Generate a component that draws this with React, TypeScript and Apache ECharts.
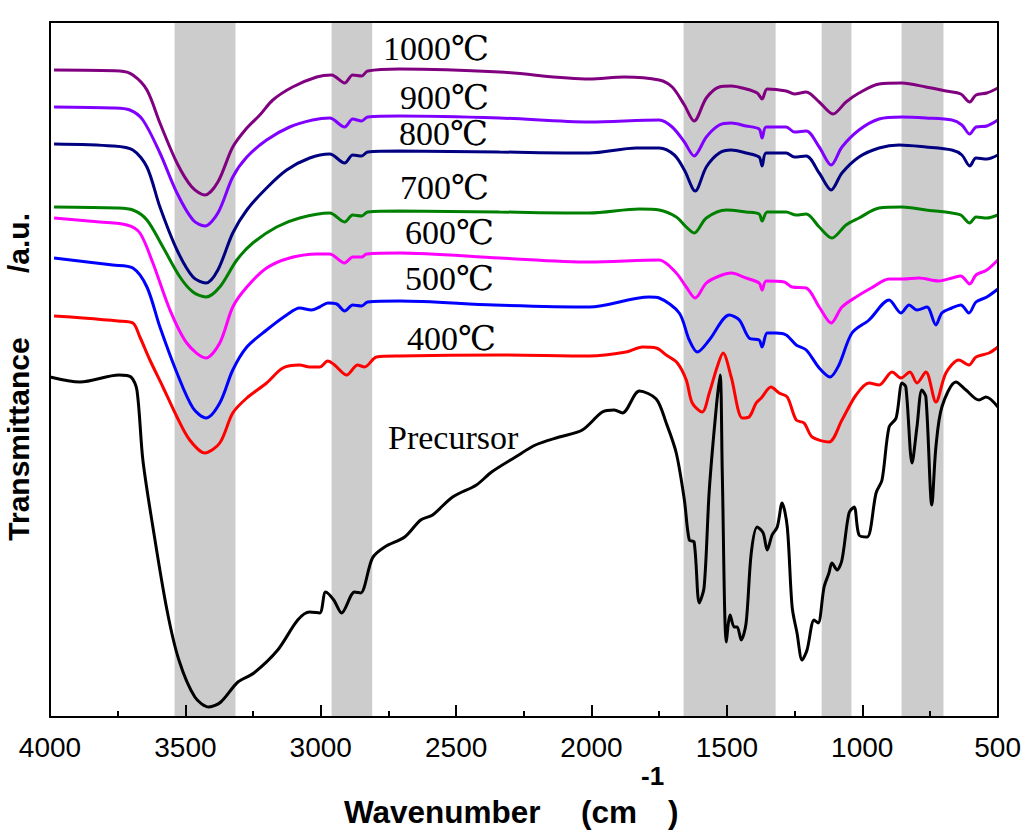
import { useEffect, useRef } from "react";
import * as echarts from "echarts";

// wavenumber (cm-1) ranges shaded grey
const bands = [
  [3540, 3315],
  [2960, 2810],
  [1660, 1320],
  [1150, 1040],
  [855, 700],
];

const xTicks = [4000, 3500, 3000, 2500, 2000, 1500, 1000, 500];

// [wavenumber, transmittance a.u.]
const precursor = [
  [4000, 68], [3889, 67], [3745, 68.4], [3701, 68], [3679, 65.4], [3657, 51.4], [3620, 38], [3568, 21.4],
  [3524, 11.4], [3465, 4], [3413, 2], [3369, 3], [3306, 7], [3247, 8.8], [3159, 13.4], [3085, 19.4],
  [3041, 21], [3004, 20.8], [2982, 25], [2952, 23.4], [2923, 20.8], [2875, 25], [2853, 24.8], [2809, 31.8],
  [2764, 34], [2690, 36], [2631, 39.4], [2587, 40.4], [2513, 44], [2425, 46.4], [2369, 49], [2281, 52],
  [2207, 54.4], [2119, 56], [2034, 57.4], [1960, 61], [1916, 61.4], [1886, 60.8], [1823, 65.2], [1761, 63.6],
  [1724, 58.8], [1687, 52.8], [1657, 43.4], [1639, 35.4], [1621, 35], [1602, 22.8], [1584, 26], [1565, 45.4],
  [1539, 62], [1525, 68.4], [1517, 48.8], [1502, 15], [1488, 20.4], [1473, 18], [1462, 18], [1447, 15.4],
  [1429, 18.8], [1410, 32.8], [1388, 38], [1366, 36.8], [1351, 33.4], [1333, 36.4], [1314, 38], [1296, 42.8],
  [1277, 38], [1259, 22], [1241, 16.8], [1222, 11.4], [1204, 13.4], [1178, 19.4], [1163, 18.8], [1141, 26],
  [1123, 28.8], [1112, 30.8], [1093, 29.4], [1075, 31.4], [1049, 40.8], [1030, 42], [1012, 36.4], [982, 36],
  [949, 44.8], [927, 47.4], [901, 58], [875, 59.8], [853, 66.8], [839, 66], [816, 50.8], [798, 58],
  [780, 65.4], [765, 64], [743, 42.4], [728, 54], [706, 62], [654, 67], [617, 65.4], [569, 63.4],
  [543, 64], [499, 62],
];

const t400 = [
  [3985, 80.2], [3878, 79.8], [3749, 79.2], [3694, 78.8], [3668, 76], [3631, 71.4], [3583, 66], [3531, 60],
  [3484, 55.4], [3428, 52.8], [3373, 54.8], [3325, 60.8], [3273, 63.8], [3200, 66.8], [3140, 69.8], [3078, 70.4],
  [3041, 70], [3004, 70], [2974, 71.2], [2949, 70.4], [2904, 68.4], [2864, 70.4], [2838, 70], [2794, 72],
  [2709, 72.2], [2340, 72.4], [2008, 72.2], [1872, 73], [1812, 74], [1761, 73.8], [1724, 72.4], [1683, 70.8],
  [1650, 67.4], [1628, 62.8], [1591, 61], [1565, 64.8], [1536, 70], [1514, 72.8], [1484, 68], [1443, 59.8],
  [1418, 60], [1392, 62.8], [1373, 63.8], [1337, 66], [1307, 64.8], [1277, 64], [1244, 59.4], [1215, 58.8],
  [1185, 56], [1123, 55], [1075, 59.4], [1023, 64.4], [975, 66.8], [938, 66.4], [890, 69], [857, 67.8],
  [824, 69], [798, 66.8], [765, 69], [728, 63], [691, 68.8], [643, 71.4], [606, 70.4], [580, 72],
  [532, 72.8], [499, 74],
];

const t500 = [
  [3985, 91.8], [3768, 90.4], [3694, 89.8], [3642, 86], [3594, 78], [3531, 68.8], [3472, 61.8], [3424, 59.8],
  [3373, 62.8], [3325, 69.4], [3273, 74], [3200, 77.4], [3126, 80.4], [3078, 81.8], [3034, 81.4], [3004, 82],
  [2974, 82.8], [2941, 82.6], [2912, 81.2], [2882, 82.4], [2849, 82.2], [2827, 83], [2709, 83.2], [2360, 82.4],
  [2008, 82], [1787, 84], [1750, 83.8], [1676, 80.8], [1639, 75.4], [1609, 73], [1565, 75.4], [1491, 80.4],
  [1454, 79.4], [1418, 75.8], [1381, 75.4], [1370, 74], [1351, 76.8], [1318, 76.8], [1281, 76.4], [1244, 74.4],
  [1207, 73.4], [1159, 69.8], [1119, 68], [1086, 70.4], [1038, 76.8], [975, 79.4], [901, 83.4], [857, 80.8],
  [827, 82.4], [798, 81.4], [761, 82], [728, 78.4], [706, 80.8], [669, 81.8], [636, 82.4], [606, 80.8],
  [580, 83], [540, 84], [499, 85.6],
];

const t600 = [
  [3985, 99.8], [3816, 99], [3716, 98.4], [3668, 96.8], [3620, 90.8], [3557, 81.4], [3495, 74.8], [3424, 71.8],
  [3373, 74.8], [3325, 82], [3273, 86], [3200, 89.8], [3115, 91.8], [3015, 92.6], [2967, 92.6], [2912, 90.8],
  [2882, 92], [2849, 92], [2831, 92.6], [2709, 92.8], [2340, 91.8], [2008, 91], [1750, 91.4], [1687, 88.8],
  [1650, 86], [1617, 83.8], [1576, 86.8], [1528, 88.2], [1484, 88.8], [1429, 87.8], [1381, 86.8], [1370, 85.4],
  [1355, 87.2], [1288, 87], [1259, 86], [1207, 85.8], [1159, 82], [1115, 78.8], [1075, 82], [1023, 84],
  [967, 85.8], [901, 87.6], [849, 87.6], [791, 87.8], [717, 87.2], [669, 87.8], [636, 88.2], [603, 86.6],
  [580, 88.4], [540, 89.4], [499, 91.4],
];

const t700 = [
  [3985, 102], [3753, 101.8], [3694, 101.4], [3642, 99.4], [3583, 94], [3520, 88], [3472, 85], [3424, 84],
  [3373, 86], [3310, 91.4], [3251, 94.8], [3163, 98], [3078, 99.8], [2967, 100.8], [2912, 99], [2882, 100.4],
  [2849, 100.2], [2827, 101], [2709, 101.2], [2340, 101], [2008, 100.8], [1823, 101.6], [1750, 101.4], [1687, 100],
  [1650, 98], [1621, 96.8], [1576, 99.8], [1502, 101.4], [1429, 101], [1381, 100.6], [1370, 99.2], [1351, 101],
  [1281, 101], [1244, 100.4], [1207, 100.6], [1159, 98], [1112, 95.8], [1060, 98.4], [1012, 99.8], [938, 101.8],
  [853, 102], [765, 101.4], [669, 100.8], [636, 100.4], [603, 98.8], [580, 100], [540, 99.8], [499, 100.4],
];

const t800 = [
  [3985, 114.6], [3768, 114.2], [3694, 113.4], [3642, 110], [3594, 102], [3531, 93.4], [3472, 88], [3424, 86.8],
  [3380, 89.4], [3325, 96.8], [3273, 101.4], [3200, 105.8], [3126, 109.4], [3041, 111.8], [2967, 112.6], [2912, 110.8],
  [2882, 112.4], [2849, 112.2], [2827, 113], [2709, 113.2], [2340, 113], [2008, 112.8], [1834, 113.8], [1750, 113.8],
  [1694, 112.4], [1657, 109.4], [1617, 105.2], [1576, 110], [1528, 112.8], [1484, 113.4], [1429, 112.8], [1381, 112],
  [1370, 110.2], [1355, 112.8], [1281, 112.8], [1251, 112], [1207, 112.2], [1159, 108.8], [1115, 105.4], [1075, 108.8],
  [1012, 112], [938, 113.8], [864, 114.4], [765, 114], [669, 113.4], [632, 112.4], [603, 110.2], [580, 111.8],
  [540, 111.6], [499, 112.4],
];

const t900 = [
  [3985, 122], [3768, 121.8], [3705, 121.4], [3657, 119.4], [3594, 112.8], [3531, 104.8], [3472, 99.4], [3428, 98.2],
  [3380, 100.8], [3325, 108], [3273, 112], [3200, 115.4], [3115, 118], [3030, 119.4], [2967, 119.8], [2912, 118],
  [2882, 119.6], [2849, 119.2], [2827, 120], [2709, 120.2], [2340, 119.8], [2008, 119], [1750, 119.4], [1702, 118],
  [1657, 115], [1621, 112.2], [1576, 116], [1528, 118.4], [1484, 118.8], [1429, 118.2], [1381, 117.6], [1370, 115.8],
  [1355, 118], [1281, 118], [1251, 117], [1207, 117.2], [1159, 114], [1115, 110.4], [1075, 114], [1012, 117.4],
  [938, 119.6], [853, 120], [765, 119.8], [669, 119.4], [632, 118.4], [603, 116.6], [580, 118], [540, 118.2],
  [499, 119.4],
];

const t1000 = [
  [3985, 129.4], [3742, 129.2], [3694, 128.4], [3642, 125.4], [3594, 118.8], [3531, 110.8], [3476, 106], [3428, 104.4],
  [3380, 107], [3325, 114], [3273, 117.8], [3225, 120.4], [3177, 123.4], [3104, 126], [3015, 128], [2960, 128.4],
  [2912, 126.8], [2882, 128.4], [2849, 128.2], [2827, 129.2], [2709, 129.6], [2340, 129], [2008, 127.6], [1879, 128],
  [1750, 127.4], [1702, 126], [1657, 122.4], [1621, 119.2], [1576, 123.8], [1528, 126], [1484, 126.2], [1429, 125.6],
  [1388, 124.8], [1370, 123.6], [1351, 125.6], [1281, 125.2], [1251, 124.6], [1207, 125], [1159, 123], [1108, 120.6],
  [1060, 123], [1012, 124.8], [938, 126.6], [853, 126.8], [765, 126], [691, 125.2], [636, 124.6], [603, 123],
  [580, 124.4], [540, 124.8], [499, 125.8],
];

const seriesNames = ["Precursor", "400℃", "500℃", "600℃", "700℃", "800℃", "900℃", "1000℃"];
const seriesData = [precursor, t400, t500, t600, t700, t800, t900, t1000];
const seriesColors = ["#000000", "#ff0000", "#0000ff", "#ff00ff", "#008000", "#000080", "#8000ff", "#800080"];

// where each curve's name is written
const labelPos = [
  [388, 437], [407, 338], [405, 278], [405, 232], [400, 187], [399, 133], [400, 97], [383, 48],
];

const SANS = '"Liberation Sans", Arial, sans-serif';
const SERIF = '"Liberation Serif", "DejaVu Serif", "Times New Roman", serif';

const FtirChart = () => {
  const chartRef = useRef<HTMLDivElement>(null);

  useEffect(() => {
    document.body.style.margin = "0";
    if (!chartRef.current) return;
    const chart = echarts.init(chartRef.current, null, { renderer: "svg" });

    const series: any[] = seriesData.map((d, i) => ({
      name: seriesNames[i],
      type: "line",
      data: d,
      showSymbol: false,
      smooth: 0.3,
      z: 3,
      lineStyle: { color: seriesColors[i], width: 3 },
      itemStyle: { color: seriesColors[i] },
    }));
    series[0].markArea = {
      silent: true,
      z: 1,
      itemStyle: { color: "#cccccc" },
      data: bands.map(([a, b]) => [{ xAxis: a }, { xAxis: b }]),
    };

    const graphic: any[] = seriesNames.map((n, i) => ({
      type: "text",
      x: labelPos[i][0],
      y: labelPos[i][1],
      z: 10,
      style: {
        text: n,
        fill: "#000",
        fontSize: 34,
        fontFamily: SERIF,
        textAlign: "left",
        textVerticalAlign: "middle",
      },
    }));

    const titleStyle = { fill: "#000", fontSize: 31.5, fontWeight: "bold", fontFamily: SANS, textVerticalAlign: "middle" };
    graphic.push(
      { type: "text", x: 344, y: 812, style: { ...titleStyle, text: "Wavenumber", textAlign: "left" } },
      { type: "text", x: 581, y: 812, style: { ...titleStyle, text: "(cm", textAlign: "left" } },
      { type: "text", x: 641, y: 776, style: { ...titleStyle, fontSize: 26, text: "-1", textAlign: "left" } },
      { type: "text", x: 668, y: 812, style: { ...titleStyle, text: ")", textAlign: "left" } },
      { type: "text", x: 18, y: 439, rotation: Math.PI / 2, style: { ...titleStyle, fontSize: 30, text: "Transmittance", textAlign: "center" } },
      { type: "text", x: 18, y: 243, rotation: Math.PI / 2, style: { ...titleStyle, fontSize: 30, text: "/a.u.", textAlign: "center" } }
    );

    chart.setOption({
      animation: false,
      grid: { left: 50, right: 25, top: 22, bottom: 114 },
      xAxis: [
        {
          type: "value",
          min: 500,
          max: 4000,
          interval: 500,
          inverse: true,
          z: 5,
          splitLine: { show: false },
          axisLine: { lineStyle: { color: "#000", width: 2 } },
          axisTick: { inside: true, length: 12, lineStyle: { color: "#000", width: 2 } },
          minorTick: { show: true, splitNumber: 2, length: 6, lineStyle: { color: "#000", width: 2 } },
          axisLabel: {
            color: "#000",
            fontSize: 28,
            fontFamily: SANS,
            margin: 16,
            formatter: (v: number) => (xTicks.includes(v) ? String(v) : ""),
          },
        },
        {
          type: "value",
          position: "top",
          min: 500,
          max: 4000,
          inverse: true,
          z: 5,
          splitLine: { show: false },
          axisLine: { show: true, onZero: false, lineStyle: { color: "#000", width: 2 } },
          axisTick: { show: false },
          axisLabel: { show: false },
        },
      ],
      yAxis: [
        {
          type: "value",
          min: 0,
          max: 139,
          z: 5,
          splitLine: { show: false },
          axisLine: { show: true, lineStyle: { color: "#000", width: 2 } },
          axisTick: { show: false },
          axisLabel: { show: false },
        },
        {
          type: "value",
          position: "right",
          min: 0,
          max: 139,
          z: 5,
          splitLine: { show: false },
          axisLine: { show: true, lineStyle: { color: "#000", width: 2 } },
          axisTick: { show: false },
          axisLabel: { show: false },
        },
      ],
      series,
      graphic,
    });

    return () => {
      chart.dispose();
    };
  }, []);

  return <div ref={chartRef} style={{ width: "1024px", height: "831px" }}></div>;
};

export default function App() {
  return <FtirChart />;
}
